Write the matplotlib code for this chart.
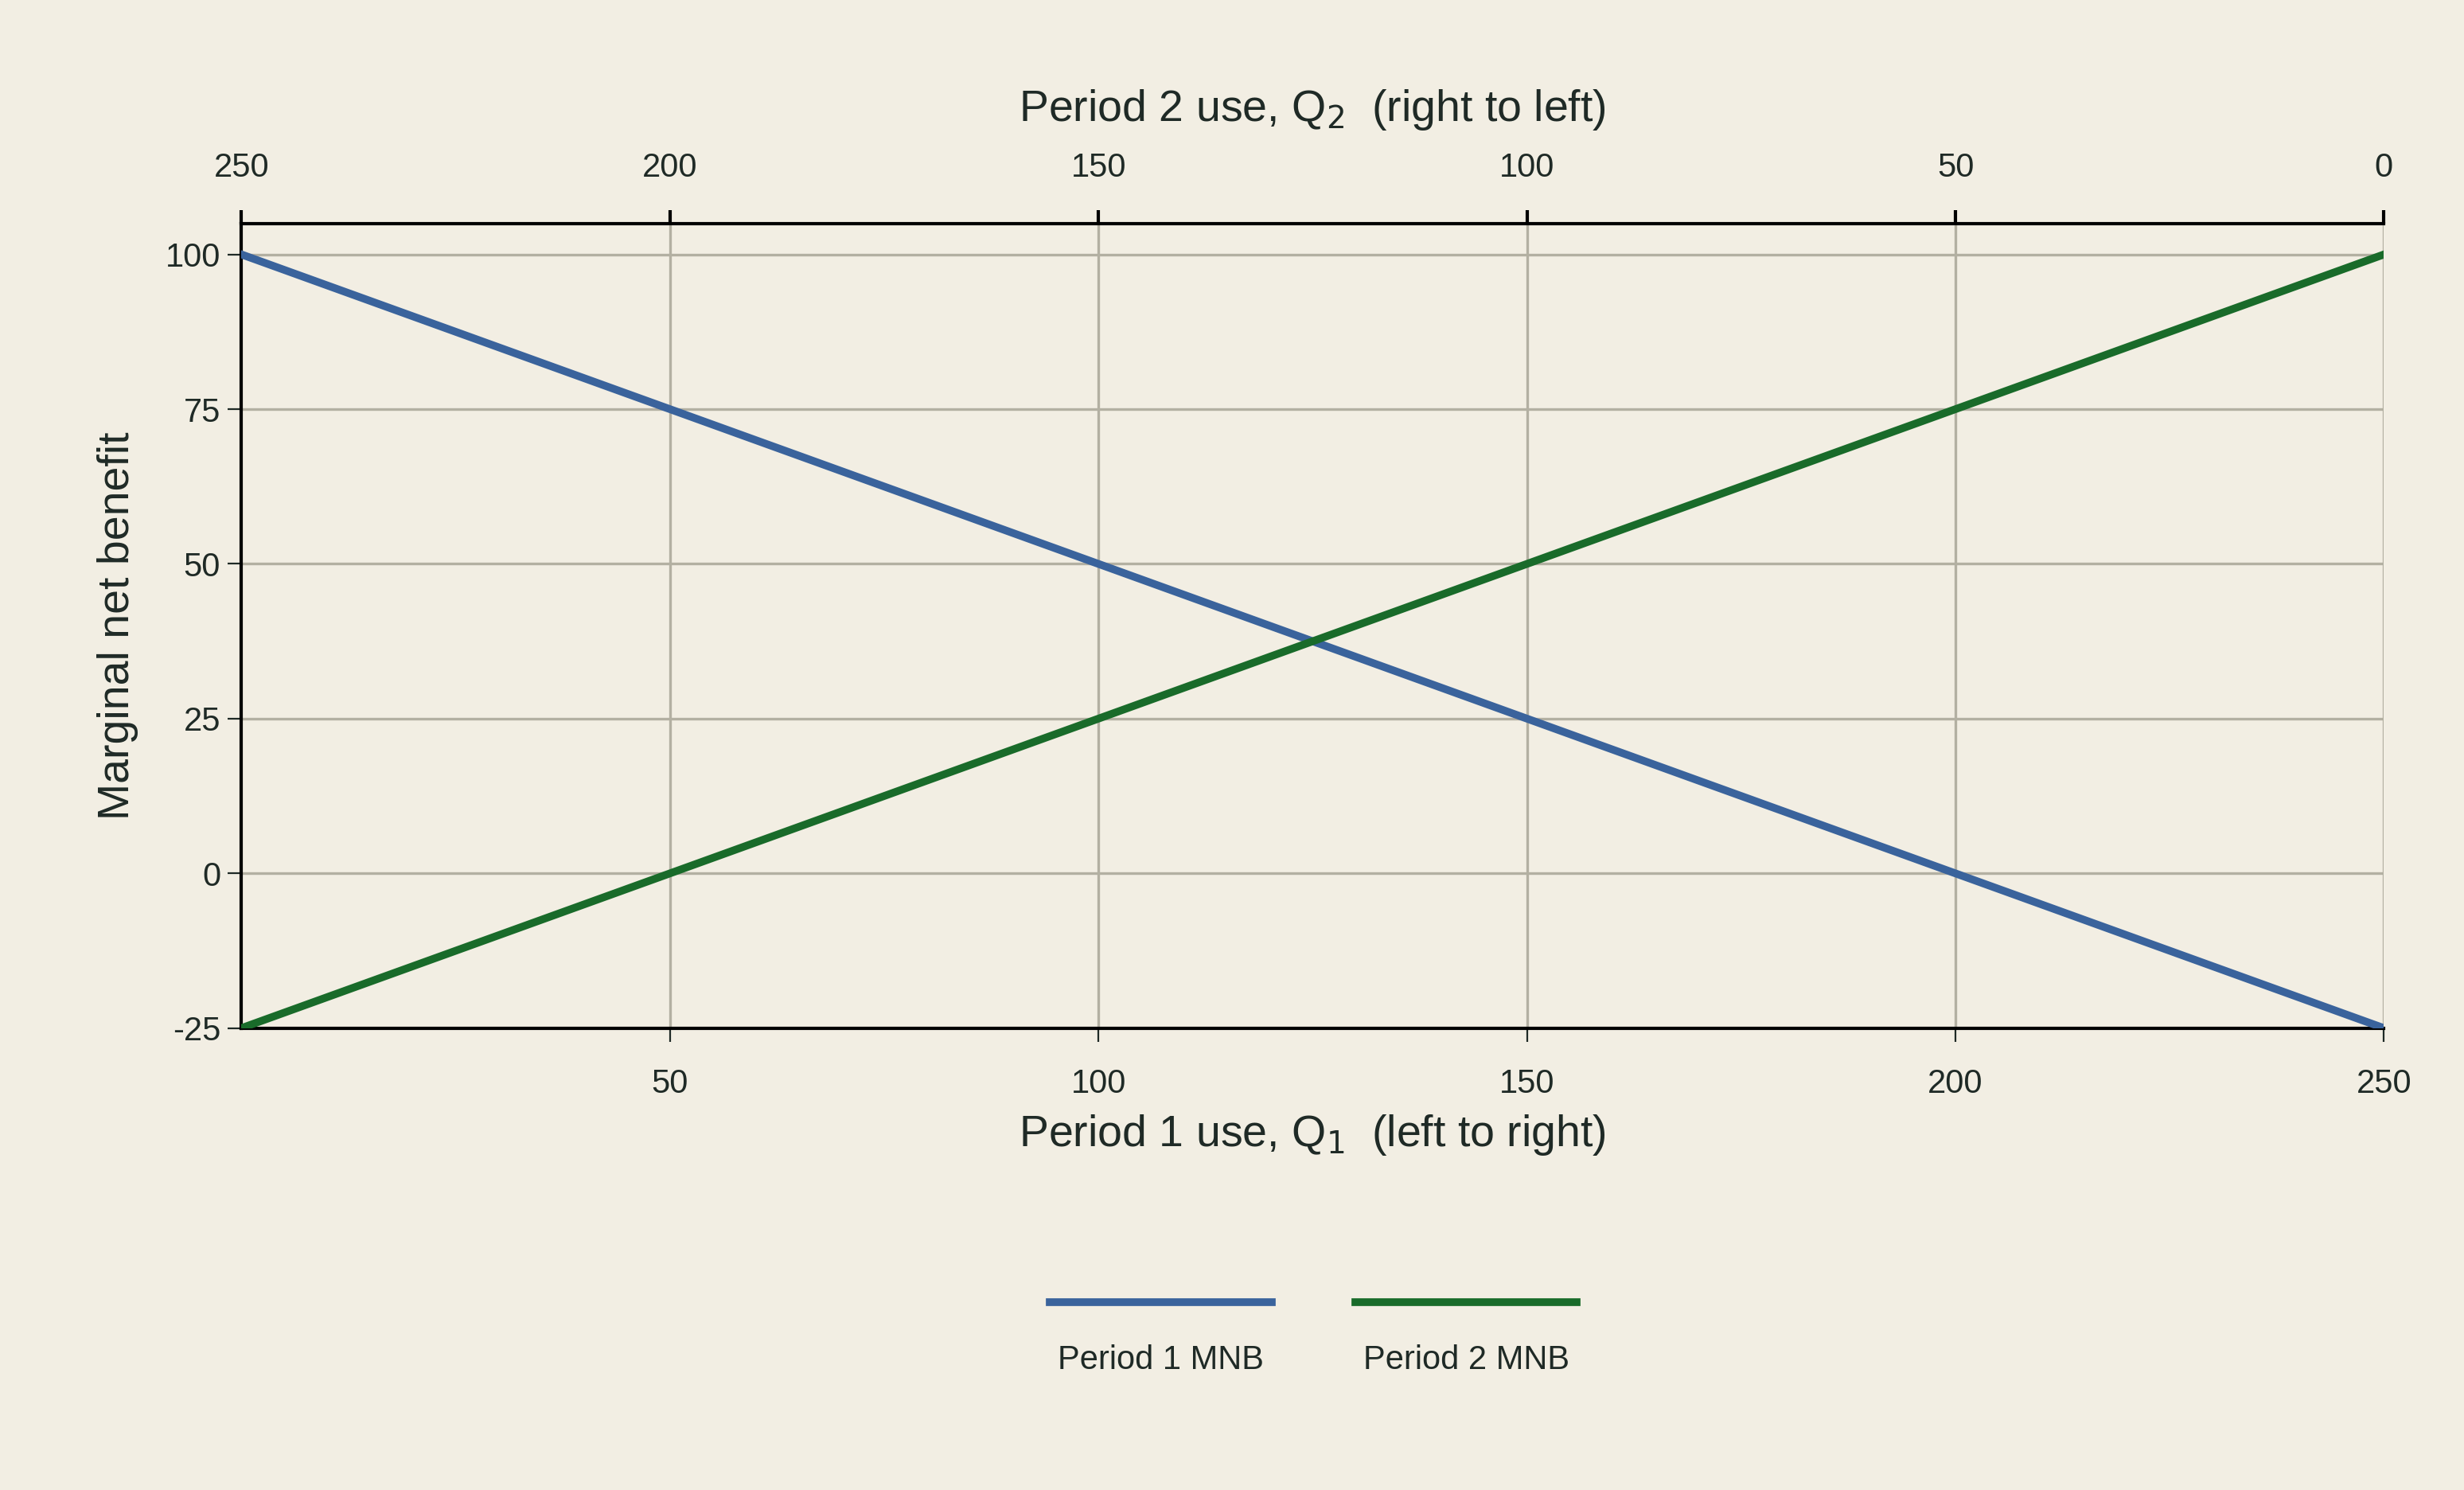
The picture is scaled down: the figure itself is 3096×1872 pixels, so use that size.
import matplotlib.pyplot as plt
from matplotlib.lines import Line2D

# data
q1 = [0, 250]
mnb1 = [100, -25]
mnb2 = [-25, 100]
bottom_ticks = [50, 100, 150, 200, 250]
top_ticks = [0, 50, 100, 150, 200, 250]
top_labels = ['250', '200', '150', '100', '50', '0']
series_names = ['Period 1 MNB', 'Period 2 MNB']
colors = ['#3a639c', '#196b2a']

bg = '#f2eee3'
txt = '#1f2a26'
plt.rcParams['font.family'] = ['Liberation Sans', 'DejaVu Sans']
plt.rcParams['axes.unicode_minus'] = False

fig = plt.figure(figsize=(15.48, 9.36), dpi=200, facecolor=bg)
ax = fig.add_axes([0.098, 0.31, 0.8695, 0.54], facecolor=bg)

ax.plot(q1, mnb1, color=colors[0], lw=3.5, zorder=3)
ax.plot(q1, mnb2, color=colors[1], lw=3.5, zorder=3)

ax.set_xlim(0, 250)
ax.set_ylim(-25, 105)
ax.set_yticks([-25, 0, 25, 50, 75, 100])
ax.set_xticks(bottom_ticks)
ax.grid(True, color='#b3b0a2', lw=1.2)
ax.tick_params(labelsize=15, colors=txt, length=6)
ax.tick_params(axis='x', pad=12)
for s in ['left', 'bottom', 'top']:
    ax.spines[s].set_color('black')
    ax.spines[s].set_linewidth(1.5)
ax.spines['right'].set_visible(False)

ax.set_xlabel(r'Period 1 use, Q$_1$  (left to right)', fontsize=20, color=txt, labelpad=6)
ax.set_ylabel('Marginal net benefit', fontsize=20, color=txt, labelpad=12)

top = ax.twiny()
top.set_xlim(0, 250)
top.set_xticks(top_ticks)
top.set_xticklabels(top_labels)
top.tick_params(labelsize=15, colors='black', labelcolor=txt, length=6, width=1.5, pad=12)
for s in top.spines.values():
    s.set_visible(False)
top.set_xlabel(r'Period 2 use, Q$_2$  (right to left)', fontsize=20, color=txt, labelpad=14)

# legend, text below the handles
for i, name in enumerate(series_names):
    x0 = 0.426 + i * 0.124
    fig.add_artist(Line2D([x0, x0 + 0.09], [0.126, 0.126], color=colors[i], lw=3.5,
                          transform=fig.transFigure))
    fig.text(x0 + 0.045, 0.087, name, ha='center', va='center', fontsize=15, color=txt)

fig.savefig('out.png', facecolor=bg)
